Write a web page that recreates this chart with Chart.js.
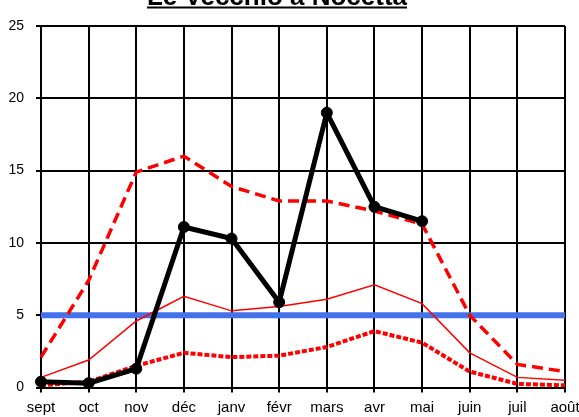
<!DOCTYPE html>
<html>
<head>
<meta charset="utf-8">
<script src="https://cdn.jsdelivr.net/npm/chart.js@4/dist/chart.umd.min.js"></script>
<style>
  html, body { margin: 0; padding: 0; background: #fff; overflow: hidden; }
  #graph { display: block; }
</style>
</head>
<body>
<canvas id="graph" width="579" height="417"></canvas>
<script>
const titre = 'Le Vecchio à Nocetta';
const mois = ['sept', 'oct', 'nov', 'déc', 'janv', 'févr', 'mars', 'avr', 'mai', 'juin', 'juil', 'août'];
const mesures = [0.4, 0.3, 1.3, 11.1, 10.3, 5.9, 19.0, 12.5, 11.5, null, null, null]; // courbe noire
const maxi = [2.1, 7.4, 14.9, 16.0, 13.9, 12.9, 12.9, 12.2, 11.3, 5.0, 1.6, 1.1]; // rouge tirets
const moyenne = [0.7, 1.9, 4.6, 6.3, 5.3, 5.6, 6.1, 7.1, 5.8, 2.4, 0.7, 0.5]; // rouge fin
const mini = [0.15, 0.4, 1.5, 2.4, 2.1, 2.2, 2.8, 3.9, 3.1, 1.1, 0.25, 0.15]; // rouge pointillé
const seuil = [5, 5, 5, 5, 5, 5, 5, 5, 5, 5, 5, 5]; // ligne bleue
const graduations = [0, 5, 10, 15, 20, 25];

const famille = "'Liberation Sans', Arial, sans-serif";

// titre dessiné à la main (coupé en haut comme sur l'original)
const titrePlugin = {
  id: 'titre',
  afterDraw(chart) {
    const c = chart.ctx;
    c.save();
    c.font = 'bold 26px ' + famille;
    c.fillStyle = '#000';
    c.textAlign = 'center';
    c.textBaseline = 'alphabetic';
    const w = c.measureText(titre).width;
    c.fillText(titre, 277, 5);
    c.fillRect(277 - w / 2, 6.5, w, 2);
    c.restore();
  }
};

const ctx = document.getElementById('graph').getContext('2d');
new Chart(ctx, {
  type: 'line',
  data: {
    labels: mois,
    datasets: [
      {
        data: mesures,
        borderColor: '#000',
        borderWidth: 5,
        pointRadius: 5.5,
        pointBorderWidth: 1,
        pointBackgroundColor: '#000',
        pointBorderColor: '#000',
        order: 0
      },
      {
        data: maxi,
        borderColor: '#ff0000',
        borderWidth: 3.5,
        borderDash: [11, 6],
        pointRadius: 0,
        order: 1
      },
      {
        data: moyenne,
        borderColor: '#ff0000',
        borderWidth: 1.5,
        pointRadius: 0,
        order: 2
      },
      {
        data: mini,
        borderColor: '#ff0000',
        borderWidth: 4,
        borderDash: [5, 2],
        pointRadius: 0,
        order: 3
      },
      {
        data: seuil,
        borderColor: '#4472e8',
        borderWidth: 6,
        pointRadius: 0,
        order: 4
      }
    ]
  },
  options: {
    responsive: false,
    animation: false,
    events: [],
    layout: { padding: { top: 26, right: 14, left: 0, bottom: 0 } },
    elements: { line: { tension: 0 } },
    plugins: {
      legend: { display: false },
      title: { display: false },
      tooltip: { enabled: false }
    },
    scales: {
      x: {
        type: 'category',
        offset: false,
        grid: { color: '#000', lineWidth: 2, tickLength: 5, offset: false },
        border: { color: '#000', width: 2 },
        ticks: { color: '#000', font: { family: famille, size: 15 }, padding: 6, maxRotation: 0, autoSkip: false },
        afterFit(s) { s.height = 29.5; s.paddingLeft = 0; s.paddingRight = 0; }
      },
      y: {
        min: 0,
        max: 25,
        afterBuildTicks(s) { s.ticks = graduations.map(v => ({ value: v })); },
        grid: { color: '#000', lineWidth: 2, tickLength: 5 },
        border: { color: '#000', width: 2 },
        ticks: { color: '#000', font: { family: famille, size: 14 }, padding: 12 },
        afterFit(s) { s.width = 41; }
      }
    }
  },
  plugins: [titrePlugin]
});
</script>
</body>
</html>
